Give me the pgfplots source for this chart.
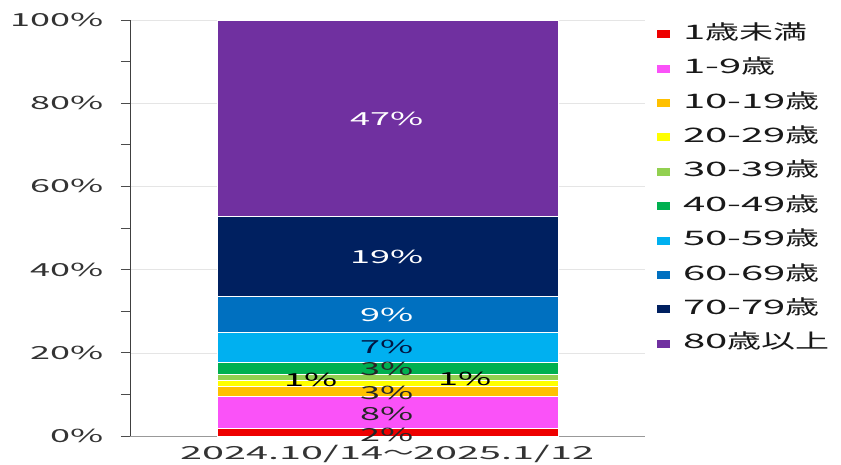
\documentclass[border=0pt]{standalone}
\usepackage{fontspec}
\setmainfont{Noto Sans CJK JP}[FakeStretch=2.0]
\newfontfamily\cjk{Noto Sans CJK JP}[FakeStretch=1.7]
\newfontfamily\xl{Noto Sans CJK JP}[FakeStretch=2.2]
\usepackage{pgfplots}
\pgfplotsset{compat=1.18}
\definecolor{cRed}{HTML}{EE0000}
\definecolor{cMag}{HTML}{FA52F8}
\definecolor{cOra}{HTML}{FFC000}
\definecolor{cYel}{HTML}{FFFF00}
\definecolor{cLgr}{HTML}{92D050}
\definecolor{cGrn}{HTML}{00B050}
\definecolor{cLbl}{HTML}{00B0F0}
\definecolor{cBlu}{HTML}{0070C0}
\definecolor{cNav}{HTML}{002060}
\definecolor{cPur}{HTML}{7030A0}
\definecolor{txt}{HTML}{333333}
\definecolor{dark}{HTML}{262626}
\begin{document}
\begin{tikzpicture}
\path[use as bounding box] (0,0) rectangle (841pt,464pt);
\begin{axis}[
  at={(130pt,28pt)}, anchor=south west,
  scale only axis, width=515pt, height=416pt,
  ybar stacked, bar width=341pt,
  xmin=-1, xmax=1, ymin=0, ymax=100,
  xtick={0}, xticklabels={{\xl 2024.10/14}{\cjk ～}{\xl 2025.1/12}},
  ytick={0,20,40,60,80,100},
  yticklabels={0\%,20\%,40\%,60\%,80\%,100\%},
  minor ytick={10,30,50,70,90},
  axis x line*=bottom, axis y line*=left,
  x axis line style={draw=black!40, -, line width=0.8pt},
  y axis line style={draw=black!75, -, line width=0.8pt},
  ymajorgrids, grid style={black!10, line width=0.6pt},
  ytick style={draw=black!70, line width=0.7pt},
  xtick style={draw=none},
  major tick length=9pt, minor tick length=9pt, tick align=outside,
  tick label style={font=\fontsize{18}{18}\selectfont, text=txt},
  yticklabel style={xshift=-14pt},
  xticklabel style={yshift=3pt},
  legend style={at={(1,1)}, anchor=north west, xshift=12pt, yshift=-4pt, draw=none, fill=none,
    font=\fontsize{20}{20}\selectfont, text=black!90, inner sep=0pt,
    nodes={inner sep=0pt, text height=15pt, text depth=5pt},
    row sep=14.4pt, /tikz/every odd column/.style={column sep=13pt}},
  legend cell align=left,
  legend image code/.code={\fill[#1, draw=none] (0pt,-4pt) rectangle (13pt,4pt);},
  every axis plot/.append style={draw=white, line width=0.8pt},
]
\addplot[fill=cRed] coordinates {(0,1.9)};
\addplot[fill=cMag] coordinates {(0,7.5)};
\addplot[fill=cOra] coordinates {(0,2.6)};
\addplot[fill=cYel] coordinates {(0,1.4)};
\addplot[fill=cLgr] coordinates {(0,1.3)};
\addplot[fill=cGrn] coordinates {(0,3.1)};
\addplot[fill=cLbl] coordinates {(0,7.0)};
\addplot[fill=cBlu] coordinates {(0,8.7)};
\addplot[fill=cNav] coordinates {(0,19.3)};
\addplot[fill=cPur] coordinates {(0,47.2)};
\legend{1{\cjk 歳未満},1-9{\cjk 歳},10-19{\cjk 歳},20-29{\cjk 歳},30-39{\cjk 歳},40-49{\cjk 歳},50-59{\cjk 歳},60-69{\cjk 歳},70-79{\cjk 歳},80{\cjk 歳以上}}
\end{axis}
\begin{axis}[
  at={(130pt,28pt)}, anchor=south west,
  scale only axis, width=515pt, height=416pt,
  xmin=-1, xmax=1, ymin=0, ymax=100,
  hide axis,
  nodes near coords, point meta=explicit symbolic,
  every node near coord/.append style={font=\fontsize{18}{18}\selectfont, anchor=center, inner sep=0pt},
]
\addplot[draw=none, mark=none, every node near coord/.append style={text=dark}]
  coordinates {(0,0.3) [2\%] (0,5.3) [8\%] (0,10.25) [3\%] (0,16.15) [3\%]};
\addplot[draw=none, mark=none, every node near coord/.append style={text=black}]
  coordinates {(-0.295,13.5) [1\%] (0.301,13.7) [1\%]};
\addplot[draw=none, mark=none, every node near coord/.append style={text=cNav!70!black}]
  coordinates {(0,21.3) [7\%]};
\addplot[draw=none, mark=none, every node near coord/.append style={text=white}]
  coordinates {(0,29.0) [9\%] (0,43.1) [19\%] (0,76.3) [47\%]};
\end{axis}
\end{tikzpicture}
\end{document}
